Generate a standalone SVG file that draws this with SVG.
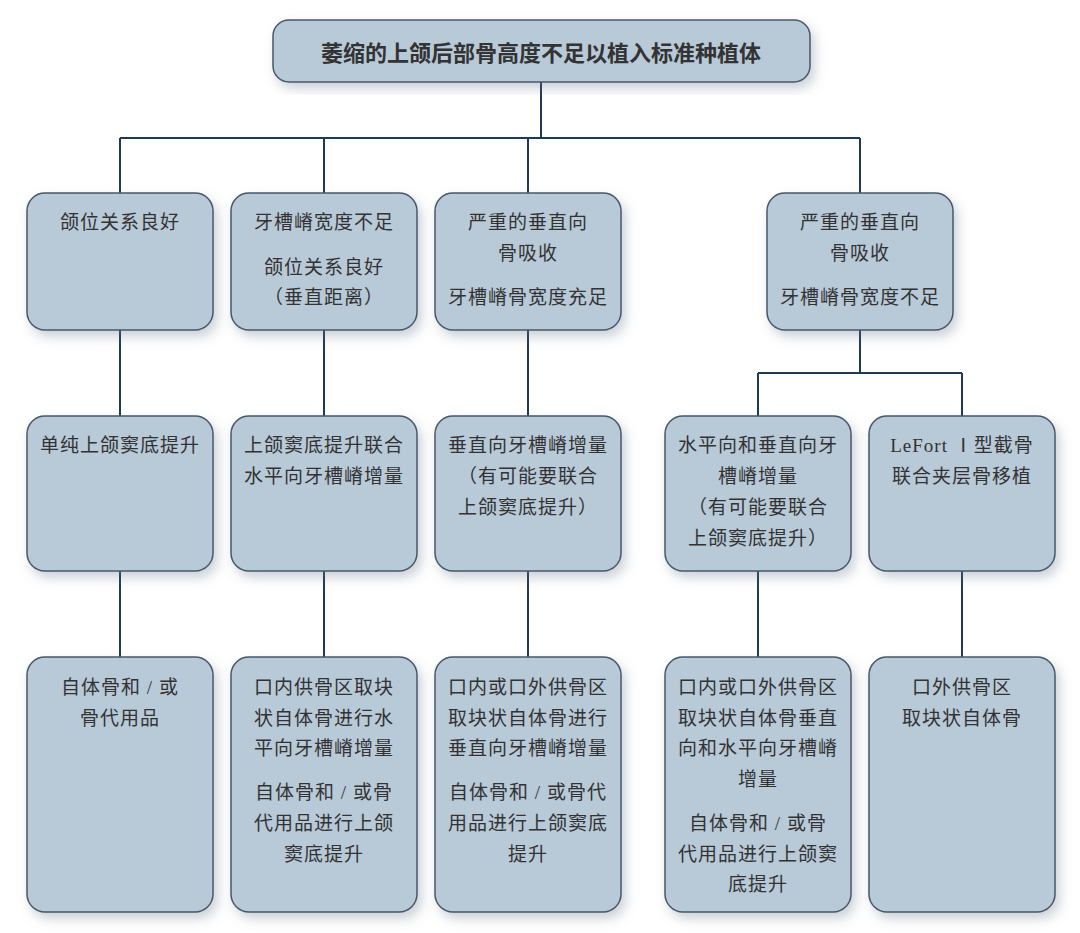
<svg xmlns="http://www.w3.org/2000/svg" width="1080" height="933" viewBox="0 0 1080 933">
<defs>
<filter id="sh" x="-20%" y="-20%" width="140%" height="140%">
<feDropShadow dx="4" dy="6" stdDeviation="6" flood-color="#6a7a8a" flood-opacity="0.35"/>
</filter>
</defs>
<style>
.box{fill:#b8c9d8;stroke:#46586a;stroke-width:1.5;filter:url(#sh)}
.t{font-family:"Liberation Serif","Noto Sans CJK SC",serif;font-size:19px;letter-spacing:1px;fill:#333;text-anchor:middle;dominant-baseline:central}
.title{font-family:"Noto Sans CJK SC",sans-serif;font-size:22px;font-weight:bold;fill:#333;text-anchor:middle;dominant-baseline:central}
.ln{fill:none;stroke:#1f3a52;stroke-width:2}
</style>
<rect width="1080" height="933" fill="#fff"/>
<g id="connectors">
<path class="ln" d="M541 82V138M120 138H860M120 138V193M324 138V193M528 138V193M860 138V193"/>
<path class="ln" d="M120 330V416M324 330V416M528 330V416M860 330V373M758 373H962M758 373V416M962 373V416"/>
<path class="ln" d="M120 571V657M324 571V657M528 571V657M758 571V657M962 571V657"/>
</g>
<g id="root"><rect class="box" x="273" y="20" width="537" height="62" rx="16"/><text class="title" x="541" y="51">萎缩的上颌后部骨高度不足以植入标准种植体</text></g>
<g id="r1a"><rect class="box" x="27" y="193" width="186" height="137" rx="18"/><text class="t" x="120" y="222">颌位关系良好</text></g>
<g id="r1b"><rect class="box" x="231" y="193" width="186" height="137" rx="18"/><text class="t" x="324" y="222">牙槽嵴宽度不足</text><text class="t" x="324" y="267">颌位关系良好</text><text class="t" x="324" y="297">（垂直距离）</text></g>
<g id="r1c"><rect class="box" x="435" y="193" width="186" height="137" rx="18"/><text class="t" x="528" y="222">严重的垂直向</text><text class="t" x="528" y="253">骨吸收</text><text class="t" x="528" y="297">牙槽嵴骨宽度充足</text></g>
<g id="r1d"><rect class="box" x="767" y="193" width="186" height="137" rx="18"/><text class="t" x="860" y="222">严重的垂直向</text><text class="t" x="860" y="253">骨吸收</text><text class="t" x="860" y="297">牙槽嵴骨宽度不足</text></g>
<g id="r2a"><rect class="box" x="27" y="416" width="186" height="155" rx="18"/><text class="t" x="120" y="445">单纯上颌窦底提升</text></g>
<g id="r2b"><rect class="box" x="231" y="416" width="186" height="155" rx="18"/><text class="t" x="324" y="445">上颌窦底提升联合</text><text class="t" x="324" y="476">水平向牙槽嵴增量</text></g>
<g id="r2c"><rect class="box" x="435" y="416" width="186" height="155" rx="18"/><text class="t" x="528" y="445">垂直向牙槽嵴增量</text><text class="t" x="528" y="476">（有可能要联合</text><text class="t" x="528" y="507">上颌窦底提升）</text></g>
<g id="r2d"><rect class="box" x="665" y="416" width="186" height="155" rx="18"/><text class="t" x="758" y="445">水平向和垂直向牙</text><text class="t" x="758" y="476">槽嵴增量</text><text class="t" x="758" y="507">（有可能要联合</text><text class="t" x="758" y="538">上颌窦底提升）</text></g>
<g id="r2e"><rect class="box" x="869" y="416" width="186" height="155" rx="18"/><text class="t" x="962" y="445">LeFort Ⅰ型截骨</text><text class="t" x="962" y="476">联合夹层骨移植</text></g>
<g id="r3a"><rect class="box" x="27" y="657" width="186" height="255" rx="18"/><text class="t" x="120" y="687">自体骨和 / 或</text><text class="t" x="120" y="718">骨代用品</text></g>
<g id="r3b"><rect class="box" x="231" y="657" width="186" height="255" rx="18"/><text class="t" x="324" y="687">口内供骨区取块</text><text class="t" x="324" y="718">状自体骨进行水</text><text class="t" x="324" y="748">平向牙槽嵴增量</text><text class="t" x="324" y="792">自体骨和 / 或骨</text><text class="t" x="324" y="823">代用品进行上颌</text><text class="t" x="324" y="854">窦底提升</text></g>
<g id="r3c"><rect class="box" x="435" y="657" width="186" height="255" rx="18"/><text class="t" x="528" y="687">口内或口外供骨区</text><text class="t" x="528" y="718">取块状自体骨进行</text><text class="t" x="528" y="748">垂直向牙槽嵴增量</text><text class="t" x="528" y="792">自体骨和 / 或骨代</text><text class="t" x="528" y="823">用品进行上颌窦底</text><text class="t" x="528" y="854">提升</text></g>
<g id="r3d"><rect class="box" x="665" y="657" width="186" height="255" rx="18"/><text class="t" x="758" y="687">口内或口外供骨区</text><text class="t" x="758" y="718">取块状自体骨垂直</text><text class="t" x="758" y="748">向和水平向牙槽嵴</text><text class="t" x="758" y="779">增量</text><text class="t" x="758" y="823">自体骨和 / 或骨</text><text class="t" x="758" y="854">代用品进行上颌窦</text><text class="t" x="758" y="884">底提升</text></g>
<g id="r3e"><rect class="box" x="869" y="657" width="186" height="255" rx="18"/><text class="t" x="962" y="687">口外供骨区</text><text class="t" x="962" y="718">取块状自体骨</text></g>
</svg>
